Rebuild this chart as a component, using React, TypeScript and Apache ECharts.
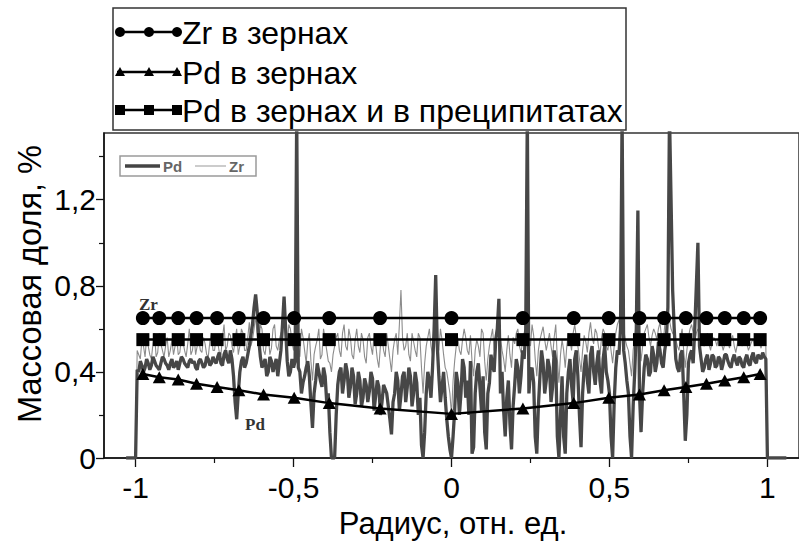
import React, { useEffect, useRef } from "react";
import * as echarts from "echarts";

// Measured EDS profiles across the sample, sampled every 0.01 of relative radius from -1 to 1
const profileStart = -1;
const profileStep = 0.01;

const pdProfile = [
  0.0, 0.4, 0.43, 0.42, 0.44, 0.43, 0.45, 0.42, 0.44, 0.46,
  0.43, 0.44, 0.42, 0.45, 0.44, 0.46, 0.43, 0.45, 0.44, 0.42,
  0.45, 0.44, 0.43, 0.46, 0.44, 0.45, 0.47, 0.44, 0.48, 0.46,
  0.5, 0.38, 0.18, 0.4, 0.47, 0.44, 0.52, 0.62, 0.76, 0.55,
  0.42, 0.46, 0.4, 0.45, 0.43, 0.38, 0.5, 0.75, 0.45, 0.4,
  0.42, 1.6, 0.4, 0.35, 0.42, 0.38, 0.14, 0.36, 0.4, 0.33,
  0.38, 0.3, 0.0, 0.0, 0.34, 0.42, 0.36, 0.4, 0.33, 0.38,
  0.3, 0.36, 0.28, 0.34, 0.31, 0.37, 0.29, 0.33, 0.26, 0.32,
  0.24, 0.11, 0.3, 0.36, 0.29, 0.4, 0.33, 0.38, 0.3, 0.35,
  0.28, 0.0, 0.3, 0.36, 0.42, 0.85, 0.38, 0.33, 0.28, 0.1,
  0.0, 0.22, 0.35, 0.3, 0.42, 0.36, 0.45, 0.05, 0.4, 0.33,
  0.38, 0.04, 0.35, 0.43, 0.55, 0.74, 0.4, 0.1, 0.36, 0.04,
  0.34, 0.42, 0.38, 0.46, 1.6, 0.4, 0.35, 0.02, 0.38, 0.44,
  0.36, 0.42, 0.33, 0.45, 0.0, 0.38, 0.02, 0.4, 0.34, 0.46,
  0.38, 0.05, 0.42, 0.36, 0.48, 0.4, 0.44, 0.36, 0.46, 0.4,
  0.3, 0.0, 0.42, 0.48, 1.6, 0.44, 0.3, 0.0, 0.4, 1.15,
  0.12, 0.42, 0.46, 0.4, 0.48, 0.44, 0.5, 0.42, 0.55, 1.6,
  0.78, 0.46, 0.4, 0.5, 0.08, 0.44, 0.5, 0.6, 1.0, 0.46,
  0.42, 0.48, 0.44, 0.47, 0.43, 0.46, 0.44, 0.48, 0.43, 0.46,
  0.45, 0.47, 0.43, 0.46, 0.44, 0.47, 0.45, 0.48, 0.46, 0.47,
  0.0,
];

// Readings taken halfway between the samples above (radius -0.995 ... 0.995)
const pdProfileMid = [
  0.41, 0.45, 0.4, 0.46, 0.41, 0.47, 0.43, 0.41, 0.47, 0.44,
  0.41, 0.46, 0.43, 0.41, 0.47, 0.44, 0.42, 0.46, 0.45, 0.41,
  0.46, 0.42, 0.47, 0.43, 0.47, 0.44, 0.49, 0.43, 0.5, 0.44,
  0.46, 0.26, 0.3, 0.45, 0.42, 0.48, 0.57, 0.7, 0.68, 0.47,
  0.44, 0.38, 0.47, 0.4, 0.46, 0.44, 0.62, 0.6, 0.38, 0.46,
  0.45, 0.42, 0.3, 0.38, 0.45, 0.25, 0.3, 0.44, 0.36, 0.42,
  0.26, 0.12, 0.0, 0.2, 0.4, 0.3, 0.44, 0.28, 0.42, 0.25,
  0.4, 0.24, 0.37, 0.26, 0.4, 0.22, 0.36, 0.2, 0.34, 0.3,
  0.18, 0.26, 0.4, 0.22, 0.38, 0.26, 0.42, 0.24, 0.4, 0.2,
  0.06, 0.12, 0.4, 0.28, 0.6, 0.52, 0.26, 0.4, 0.18, 0.04,
  0.1, 0.4, 0.2, 0.46, 0.28, 0.2, 0.02, 0.3, 0.44, 0.22,
  0.12, 0.3, 0.48, 0.4, 0.6, 0.3, 0.22, 0.28, 0.16, 0.24,
  0.46, 0.3, 0.5, 0.6, 0.3, 0.42, 0.1, 0.24, 0.5, 0.3,
  0.46, 0.26, 0.5, 0.1, 0.2, 0.1, 0.3, 0.46, 0.26, 0.5,
  0.2, 0.3, 0.48, 0.3, 0.52, 0.34, 0.5, 0.3, 0.52, 0.36,
  0.1, 0.26, 0.5, 0.6, 0.5, 0.36, 0.1, 0.24, 0.6, 0.3,
  0.3, 0.48, 0.38, 0.52, 0.4, 0.54, 0.44, 0.5, 0.7, 1.2,
  0.6, 0.42, 0.48, 0.3, 0.2, 0.48, 0.44, 0.8, 0.52, 0.4,
  0.46, 0.41, 0.48, 0.42, 0.47, 0.41, 0.48, 0.45, 0.42, 0.48,
  0.43, 0.46, 0.42, 0.48, 0.43, 0.49, 0.44, 0.47, 0.49, 0.46,
];

const zrProfile = [
  0.0, 0.48, 0.55, 0.47, 0.52, 0.46, 0.58, 0.49, 0.53, 0.47,
  0.56, 0.5, 0.48, 0.57, 0.49, 0.54, 0.47, 0.6, 0.5, 0.48,
  0.55, 0.49, 0.53, 0.47, 0.58, 0.5, 0.54, 0.48, 0.62, 0.52,
  0.57, 0.49, 0.6, 0.52, 0.58, 0.5, 0.63, 0.55, 0.66, 0.52,
  0.6, 0.48, 0.57, 0.51, 0.62, 0.5, 0.58, 0.66, 0.52, 0.6,
  0.5, 0.62, 0.47, 0.56, 0.44, 0.58, 0.36, 0.52, 0.6, 0.48,
  0.55, 0.45, 0.4, 0.52, 0.58, 0.47, 0.62, 0.5, 0.56, 0.46,
  0.6, 0.49, 0.55, 0.44, 0.58, 0.48, 0.53, 0.42, 0.57, 0.47,
  0.52, 0.4, 0.55, 0.48, 0.78, 0.5, 0.58, 0.45, 0.54, 0.47,
  0.56, 0.3, 0.52, 0.6, 0.48, 0.62, 0.5, 0.55, 0.42, 0.35,
  0.2, 0.45, 0.56, 0.48, 0.6, 0.5, 0.57, 0.38, 0.55, 0.47,
  0.58, 0.36, 0.52, 0.6, 0.55, 0.62, 0.5, 0.4, 0.57, 0.42,
  0.53, 0.6, 0.49, 0.58, 0.66, 0.52, 0.57, 0.38, 0.55, 0.61,
  0.5, 0.58, 0.47, 0.62, 0.35, 0.55, 0.42, 0.58, 0.5, 0.62,
  0.52, 0.4, 0.57, 0.49, 0.63, 0.53, 0.58, 0.48, 0.6, 0.52,
  0.56, 0.44, 0.58, 0.64, 0.7, 0.55, 0.5, 0.38, 0.56, 0.66,
  0.45, 0.58, 0.62, 0.52, 0.6, 0.55, 0.63, 0.52, 0.68, 0.64,
  0.58, 0.55, 0.5, 0.6, 0.42, 0.56, 0.62, 0.54, 0.6, 0.56,
  0.52, 0.58, 0.5, 0.56, 0.52, 0.58, 0.5, 0.55, 0.51, 0.57,
  0.49, 0.55, 0.52, 0.57, 0.5, 0.54, 0.52, 0.56, 0.51, 0.54,
  0.0,
];

const zrProfileMid = [
  0.5, 0.46, 0.52, 0.56, 0.48, 0.53, 0.47, 0.58, 0.5, 0.52,
  0.47, 0.55, 0.52, 0.48, 0.56, 0.5, 0.53, 0.48, 0.57, 0.52,
  0.5, 0.56, 0.48, 0.54, 0.5, 0.57, 0.49, 0.56, 0.5, 0.58,
  0.52, 0.55, 0.48, 0.6, 0.5, 0.56, 0.52, 0.6, 0.56, 0.62,
  0.5, 0.55, 0.48, 0.6, 0.52, 0.55, 0.6, 0.55, 0.62, 0.54,
  0.56, 0.52, 0.6, 0.5, 0.54, 0.45, 0.48, 0.55, 0.46, 0.6,
  0.5, 0.44, 0.48, 0.56, 0.5, 0.58, 0.52, 0.6, 0.48, 0.55,
  0.52, 0.58, 0.47, 0.56, 0.52, 0.58, 0.46, 0.52, 0.5, 0.58,
  0.46, 0.5, 0.58, 0.62, 0.56, 0.52, 0.48, 0.58, 0.5, 0.58,
  0.42, 0.44, 0.56, 0.52, 0.58, 0.55, 0.6, 0.48, 0.4, 0.3,
  0.36, 0.52, 0.5, 0.55, 0.56, 0.48, 0.45, 0.5, 0.52, 0.6,
  0.45, 0.46, 0.56, 0.5, 0.58, 0.56, 0.46, 0.5, 0.48, 0.56,
  0.58, 0.52, 0.54, 0.6, 0.58, 0.62, 0.46, 0.5, 0.58, 0.55,
  0.54, 0.52, 0.56, 0.46, 0.48, 0.5, 0.52, 0.55, 0.58, 0.56,
  0.46, 0.5, 0.54, 0.58, 0.56, 0.6, 0.52, 0.56, 0.58, 0.5,
  0.5, 0.52, 0.62, 0.66, 0.6, 0.52, 0.44, 0.5, 0.62, 0.55,
  0.52, 0.6, 0.56, 0.57, 0.58, 0.6, 0.56, 0.62, 0.66, 0.6,
  0.57, 0.52, 0.56, 0.5, 0.5, 0.6, 0.58, 0.58, 0.58, 0.53,
  0.56, 0.53, 0.54, 0.55, 0.56, 0.53, 0.53, 0.54, 0.55, 0.52,
  0.53, 0.54, 0.55, 0.53, 0.52, 0.55, 0.54, 0.53, 0.55, 0.52,
];

// Baseline stretches outside the sample
const leftBaseline = -1.03;
const rightBaseline = 1.06;

// Averaged grain / precipitate contents at the analysed radii
const grainRadius = [
  -0.977, -0.925, -0.865, -0.807, -0.742, -0.673, -0.595, -0.498, -0.387, -0.226, 0,
  0.226, 0.387, 0.498, 0.595, 0.673, 0.742, 0.807, 0.865, 0.925, 0.977,
];
const zrInGrains = [
  0.65, 0.65, 0.65, 0.65, 0.65, 0.65, 0.65, 0.65, 0.65, 0.65, 0.65,
  0.65, 0.65, 0.65, 0.65, 0.65, 0.65, 0.65, 0.65, 0.65, 0.65,
];
const pdInGrains = [
  0.39, 0.375, 0.365, 0.345, 0.33, 0.315, 0.295, 0.28, 0.255, 0.23, 0.205,
  0.23, 0.255, 0.28, 0.295, 0.315, 0.33, 0.345, 0.36, 0.375, 0.39,
];
const pdInGrainsAndPrecipitates = [
  0.55, 0.55, 0.55, 0.55, 0.55, 0.55, 0.55, 0.55, 0.55, 0.55, 0.55,
  0.55, 0.55, 0.55, 0.55, 0.55, 0.55, 0.55, 0.55, 0.55, 0.55,
];

const legendLabels = [
  "Zr в зернах",
  "Pd в зернах",
  "Pd в зернах и в преципитатах",
];

const xMajorTicks = [-1, -0.5, 0, 0.5, 1];
const xMinorTicks = [-0.75, -0.25, 0.25, 0.75];
const yMajorTicks = [0, 0.4, 0.8, 1.2];
const yMinorTicks = [0.2, 0.6, 1.0, 1.4];

const FONT = "'Liberation Sans', Arial, Helvetica, sans-serif";
const SERIF = "'Liberation Serif', 'Times New Roman', serif";

// Merge the regular samples and the in-between readings into one ordered trace
const toProfilePairs = (values: number[], mids: number[]) => {
  const pts: number[][] = [[leftBaseline, 0]];
  values.forEach((v, i) => {
    const r = profileStart + i * profileStep;
    pts.push([+r.toFixed(3), v]);
    if (i < mids.length) pts.push([+(r + profileStep / 2).toFixed(3), mids[i]]);
  });
  pts.push([rightBaseline, 0]);
  return pts;
};

const toPairs = (values: number[]) => grainRadius.map((r, i) => [r, values[i]]);

const commaFormat = (v: number) => String(v).replace(".", ",");

function legendGraphics() {
  const rows = [32, 72, 110];
  const markX = [120, 149, 177];
  const els: any[] = [
    {
      type: "rect",
      shape: { x: 113, y: 8, width: 513, height: 122 },
      style: { fill: "#fff", stroke: "#333", lineWidth: 1.5 },
      z: 100,
    },
  ];
  rows.forEach((ry, k) => {
    els.push({
      type: "line",
      shape: { x1: 117, y1: ry, x2: 180, y2: ry },
      style: { stroke: "#000", lineWidth: 2.5 },
      z: 101,
    });
    markX.forEach((cx) => {
      if (k === 0) {
        els.push({ type: "circle", shape: { cx, cy: ry, r: 5 }, style: { fill: "#000" }, z: 102 });
      } else if (k === 1) {
        els.push({
          type: "polygon",
          shape: { points: [[cx - 5, ry + 4], [cx + 5, ry + 4], [cx, ry - 5]] },
          style: { fill: "#000" },
          z: 102,
        });
      } else {
        els.push({
          type: "rect",
          shape: { x: cx - 5, y: ry - 5, width: 10, height: 10 },
          style: { fill: "#000" },
          z: 102,
        });
      }
    });
    els.push({
      type: "text",
      x: 182,
      y: ry + 1,
      style: {
        text: legendLabels[k],
        fontSize: 32,
        fontFamily: FONT,
        fill: "#000",
        align: "left",
        verticalAlign: "middle",
      },
      z: 102,
    });
  });

  // small key of the profile traces
  els.push(
    {
      type: "rect",
      shape: { x: 120, y: 156, width: 136, height: 20 },
      style: { fill: "#fff", stroke: "#9a9a9a", lineWidth: 1.5 },
      z: 50,
    },
    {
      type: "line",
      shape: { x1: 125, y1: 166, x2: 160, y2: 166 },
      style: { stroke: "#444", lineWidth: 3.5 },
      z: 51,
    },
    {
      type: "text",
      x: 163,
      y: 166,
      style: { text: "Pd", fontSize: 15, fontWeight: "bold", fontFamily: FONT, fill: "#666", verticalAlign: "middle" },
      z: 51,
    },
    {
      type: "line",
      shape: { x1: 195, y1: 166, x2: 226, y2: 166 },
      style: { stroke: "#999", lineWidth: 1 },
      z: 51,
    },
    {
      type: "text",
      x: 229,
      y: 166,
      style: { text: "Zr", fontSize: 15, fontWeight: "bold", fontFamily: FONT, fill: "#666", verticalAlign: "middle" },
      z: 51,
    },
    {
      type: "text",
      x: 139,
      y: 304,
      style: { text: "Zr", fontSize: 17, fontWeight: "bold", fontFamily: SERIF, fill: "#333", verticalAlign: "middle" },
      z: 51,
    },
    {
      type: "text",
      x: 245,
      y: 424,
      style: { text: "Pd", fontSize: 17, fontWeight: "bold", fontFamily: SERIF, fill: "#333", verticalAlign: "middle" },
      z: 51,
    },
    {
      type: "text",
      x: 30,
      y: 284,
      rotation: Math.PI / 2,
      style: {
        text: "Массовая доля, %",
        fontSize: 32.5,
        fontFamily: FONT,
        fill: "#000",
        align: "center",
        verticalAlign: "middle",
      },
      z: 51,
    },
    {
      type: "text",
      x: 453,
      y: 523,
      style: {
        text: "Радиус, отн. ед.",
        fontSize: 31,
        fontFamily: FONT,
        fill: "#000",
        align: "center",
        verticalAlign: "middle",
      },
      z: 51,
    }
  );
  return els;
}

export default function App() {
  const ref = useRef<HTMLDivElement>(null);

  useEffect(() => {
    if (!ref.current) return;
    const chart = echarts.init(ref.current, undefined, { renderer: "svg" });

    const axisLineStyle = { color: "#111", width: 1.5 };

    const option: any = {
      animation: false,
      backgroundColor: "#fff",
      grid: {
        left: 104,
        top: 133,
        right: -3,
        bottom: 88,
        show: true,
        borderColor: "#333",
        borderWidth: 1.5,
      },
      xAxis: [
        {
          type: "value",
          min: -1.1,
          max: 1.1,
          position: "bottom",
          axisLine: { show: true, onZero: false, lineStyle: axisLineStyle },
          axisTick: { show: true, length: 9, customValues: xMajorTicks, lineStyle: { color: "#111", width: 1.3 } },
          axisLabel: {
            customValues: xMajorTicks,
            formatter: commaFormat,
            fontSize: 30,
            fontFamily: FONT,
            color: "#000",
            margin: 14,
          },
          splitLine: { show: false },
        },
        {
          type: "value",
          min: -1.1,
          max: 1.1,
          position: "bottom",
          axisLine: { show: false, onZero: false },
          axisTick: { show: true, length: 5, customValues: xMinorTicks, lineStyle: { color: "#111", width: 1.2 } },
          axisLabel: { show: false },
          splitLine: { show: false },
        },
      ],
      yAxis: [
        {
          type: "value",
          min: 0,
          max: 1.51,
          position: "left",
          axisLine: { show: true, onZero: false, lineStyle: axisLineStyle },
          axisTick: { show: true, length: 8, customValues: yMajorTicks, lineStyle: { color: "#111", width: 1.3 } },
          axisLabel: {
            customValues: yMajorTicks,
            formatter: commaFormat,
            fontSize: 30,
            fontFamily: FONT,
            color: "#000",
            margin: 8,
          },
          splitLine: { show: false },
        },
        {
          type: "value",
          min: 0,
          max: 1.51,
          position: "left",
          axisLine: { show: false, onZero: false },
          axisTick: { show: true, length: 5, customValues: yMinorTicks, lineStyle: { color: "#111", width: 1.2 } },
          axisLabel: { show: false },
          splitLine: { show: false },
        },
      ],
      series: [
        {
          name: "Zr",
          type: "line",
          data: toProfilePairs(zrProfile, zrProfileMid),
          showSymbol: false,
          symbol: "none",
          lineStyle: { color: "#8c8c8c", width: 1.1 },
          silent: true,
          clip: true,
          z: 1,
        },
        {
          name: "Pd",
          type: "line",
          data: toProfilePairs(pdProfile, pdProfileMid),
          showSymbol: false,
          symbol: "none",
          lineStyle: { color: "#474747", width: 3.3 },
          silent: true,
          clip: true,
          z: 2,
        },
        {
          name: legendLabels[0],
          type: "line",
          data: toPairs(zrInGrains),
          symbol: "circle",
          symbolSize: 14,
          itemStyle: { color: "#000" },
          lineStyle: { color: "#000", width: 2.5 },
          silent: true,
          z: 5,
        },
        {
          name: legendLabels[1],
          type: "line",
          data: toPairs(pdInGrains),
          symbol: "triangle",
          symbolSize: [13, 12],
          itemStyle: { color: "#000" },
          lineStyle: { color: "#000", width: 2.5 },
          silent: true,
          z: 5,
        },
        {
          name: legendLabels[2],
          type: "line",
          data: toPairs(pdInGrainsAndPrecipitates),
          symbol: "rect",
          symbolSize: 13,
          itemStyle: { color: "#000" },
          lineStyle: { color: "#000", width: 2.5 },
          silent: true,
          z: 5,
        },
      ],
      graphic: legendGraphics(),
    };

    chart.setOption(option);
    return () => chart.dispose();
  }, []);

  return (
    <div
      ref={ref}
      style={{ position: "fixed", left: 0, top: 0, width: 799, height: 546, background: "#fff" }}
    />
  );
}
